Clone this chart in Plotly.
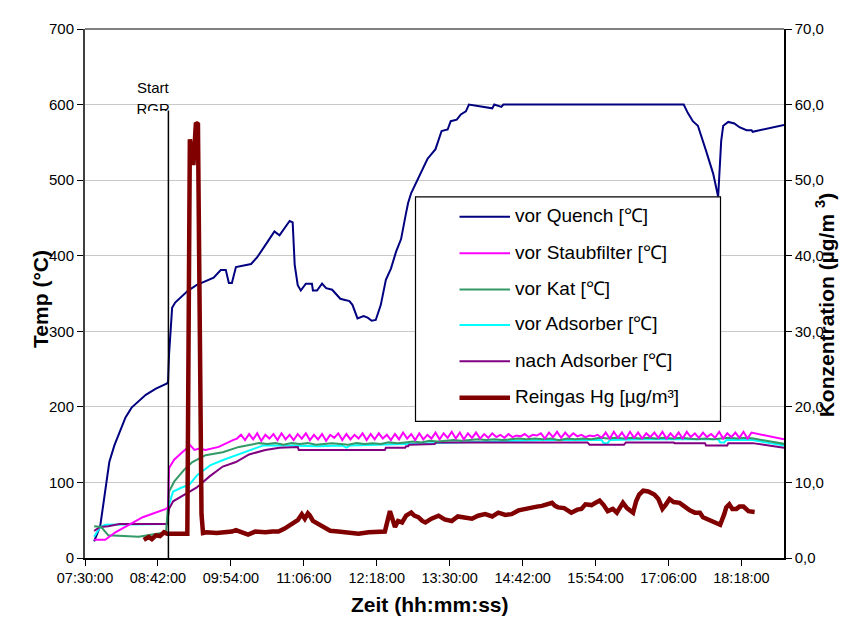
import pandas as pd
import plotly.graph_objects as go

DAY = "2024-01-01 "

def ts(s):
    s = s if len(s) > 5 else s + ":00"
    return DAY + s

# ---------------- data ----------------
quench_time = ["07:39", "07:45", "07:54", "07:59", "08:04", "08:10", "08:16", "08:23", "08:30", "08:40",
               "08:51", "08:52", "08:53", "08:56",
               "08:59", "09:11", "09:20", "09:37", "09:44", "09:49", "09:52", "09:55", "09:59", "10:14",
               "10:20", "10:30", "10:37", "10:42", "10:52", "10:55", "10:57", "11:00", "11:03", "11:08",
               "11:14", "11:15", "11:19", "11:24", "11:28", "11:34", "11:42", "11:51", "11:54", "11:59",
               "12:05", "12:09", "12:13", "12:17", "12:22", "12:27", "12:32", "12:37", "12:42", "12:47",
               "12:49", "12:52", "12:58", "13:08", "13:16", "13:22", "13:28", "13:31", "13:37", "13:41",
               "13:46", "13:49", "14:12", "14:14", "14:21", "14:23", "17:21", "17:25", "17:30", "17:35",
               "17:43", "17:50", "17:55", "17:58", "18:00", "18:05", "18:11", "18:16", "18:23", "18:28",
               "18:29", "19:00"]
quench_temp = [22, 42, 127, 149, 166, 186, 199, 208, 216, 224,
               231, 233, 270, 331,
               338, 353, 361, 371, 381, 381, 364, 364, 385, 389,
               398, 418, 432, 427, 446, 444, 388, 361, 354, 363,
               363, 354, 354, 363, 357, 355, 343, 340, 335, 317,
               320, 318, 314, 315, 335, 368, 383, 405, 422, 457,
               470, 483, 500, 528, 541, 565, 567, 578, 580, 587,
               591, 600, 595, 600, 597, 600, 600, 589, 578, 572,
               539, 509, 478, 552, 572, 577, 575, 570, 566, 566,
               564, 573]

# vor Staubfilter: start-up part, then 4-minute readings from 10:00, then end point
staub_time_a = ["07:39", "07:50", "08:00", "08:27", "08:50", "08:52", "08:53", "08:58", "09:06", "09:14",
                "09:18", "09:23", "09:29", "09:42", "09:56"]
staub_temp_a = [24, 24, 34, 54, 65, 67, 119, 130, 140, 149,
                143, 145, 143, 147, 156]
staub_grid_start = "10:00"
staub_grid_step_min = 4
staub_temp_grid = [158, 163, 156, 164, 157, 165, 155, 163, 158, 164, 156, 165, 157, 163, 156, 164,
                   158, 165, 156, 163, 157, 164, 155, 163, 159, 165, 156, 164, 157, 163, 158, 165,
                   156, 164, 157, 165, 158, 163, 156, 164, 157, 166, 158, 164, 156, 165, 157, 163,
                   158, 166, 157, 165, 159, 167, 158, 166, 157, 165, 159, 166, 158, 164, 159, 165,
                   160, 163, 159, 164, 160, 162, 161, 164, 160, 163, 162, 165, 158, 166, 160, 167,
                   159, 166, 160, 165, 161, 163, 160, 162, 161, 163, 159, 166, 158, 167, 159, 166,
                   158, 167, 159, 166, 158, 165, 160, 166, 159, 167, 158, 165, 159, 166, 158, 167,
                   160, 165, 159, 166, 160, 164, 159, 167, 158, 165, 160, 166, 159, 167, 158, 166]
staub_time_end = ["19:00"]
staub_temp_end = [157]

# vor Kat
kat_time_a = ["07:39", "07:46", "07:53", "08:23", "08:50", "08:53", "08:58", "09:08", "09:16", "09:29",
              "09:46", "10:02", "10:22"]
kat_temp_a = [42, 41, 30, 28, 34, 88, 101, 117, 127, 136,
              140, 147, 152]
kat_grid_start = "10:30"
kat_grid_step_min = 8
kat_temp_grid = [151, 152, 150, 152, 151, 152, 150, 151, 152, 151, 150, 152, 151, 152, 151, 153,
                 152, 153, 154, 153, 155, 154, 155, 156, 155, 156, 157, 156, 157, 156, 157, 158,
                 157, 158, 157, 158, 156, 158, 157, 158, 157, 159, 158, 159, 158, 159, 158, 159,
                 158, 159, 158, 159, 158, 157, 158, 157, 158, 159, 158, 159, 158]
kat_time_end = ["19:00"]
kat_temp_end = [151]

# vor Adsorber
ads_time = ["07:39", "07:45", "07:50", "08:51", "08:53", "08:57", "09:05", "09:13", "09:21", "09:34",
            "09:47", "10:00", "10:13", "10:26", "10:53", "11:20", "11:44", "11:48", "11:52", "12:20",
            "12:40", "13:00", "13:30", "14:00", "14:40", "15:00", "16:00", "16:02", "16:06", "16:08",
            "16:40", "17:40", "17:55", "17:57", "18:01", "18:03", "18:29", "19:00"]
ads_temp = [28, 41, 44, 45, 71, 88, 93, 97, 110, 123,
            130, 136, 143, 149, 149, 148, 149, 146, 149, 150,
            151, 152, 153, 154, 155, 156, 156, 152, 152, 156,
            157, 157, 157, 153, 153, 156, 156, 149]

# nach Adsorber
nach_time = ["07:39", "07:45", "07:53", "08:04", "08:51", "08:53", "08:57", "09:11", "09:20", "09:33",
             "09:46", "09:59", "10:12", "10:28", "10:42", "11:00", "11:01", "12:26", "12:27", "12:46",
             "12:47", "12:49", "12:50", "13:15", "13:17", "15:46", "15:48", "16:22", "16:24", "17:11",
             "17:12", "17:42", "17:43", "18:04", "18:05", "18:29", "19:00"]
nach_temp = [36, 41, 42, 45, 45, 65, 75, 86, 93, 108,
             121, 127, 137, 143, 146, 147, 143, 143, 146, 146,
             148, 148, 150, 151, 153, 153, 150, 150, 153, 153,
             152, 152, 149, 149, 152, 152, 146]

# Reingas Hg (secondary axis)
hg_time = ["08:28", "08:33", "08:36", "08:40", "08:44", "08:48", "08:51", "09:11", "09:13:30", "09:14:30",
           "09:17", "09:19:30", "09:21:30", "09:25", "09:26:30", "09:30", "09:40", "09:55", "09:59", "10:05",
           "10:11", "10:18", "10:28", "10:35", "10:41", "10:47", "10:52", "10:56", "11:00", "11:04",
           "11:07", "11:10", "11:12", "11:15", "11:20", "11:24", "11:32", "11:40", "11:50", "12:00",
           "12:10", "12:20", "12:26", "12:31", "12:34", "12:36", "12:39", "12:43", "12:47", "12:52",
           "12:55", "12:59", "13:03", "13:06", "13:12", "13:19", "13:25", "13:32", "13:38", "13:45",
           "13:52", "13:58", "14:05", "14:12", "14:18", "14:25", "14:31", "14:38", "14:44", "14:50",
           "14:56", "15:01", "15:06", "15:11", "15:14", "15:17", "15:23", "15:30", "15:36", "15:40",
           "15:44", "15:50", "15:54", "15:58", "16:02", "16:06", "16:11", "16:15", "16:21", "16:25",
           "16:31", "16:34", "16:37", "16:41", "16:46", "16:52", "16:56", "17:00", "17:03", "17:07",
           "17:11", "17:17", "17:22", "17:27", "17:32", "17:37", "17:40", "17:43", "17:47", "17:52",
           "17:57", "18:01", "18:03", "18:06", "18:09", "18:13", "18:16", "18:20", "18:25", "18:31"]
hg_conc = [2.4, 2.8, 2.5, 3.0, 2.9, 3.4, 3.2, 3.2, 55.4, 54.5,
           52.0, 57.6, 57.4, 5.8, 3.3, 3.4, 3.3, 3.5, 3.7, 3.4,
           3.1, 3.5, 3.4, 3.5, 3.5, 3.9, 4.3, 4.7, 5.0, 5.8,
           5.2, 5.9, 5.6, 4.9, 4.5, 4.1, 3.6, 3.5, 3.4, 3.2,
           3.4, 3.5, 3.5, 6.2, 4.6, 4.1, 4.9, 4.7, 5.6, 6.0,
           5.6, 5.4, 4.9, 4.7, 5.2, 5.6, 5.1, 4.9, 5.5, 5.4,
           5.2, 5.6, 5.8, 5.5, 6.0, 5.7, 5.8, 6.3, 6.5, 6.6,
           6.8, 6.9, 7.1, 7.3, 6.9, 6.7, 6.6, 6.0, 6.4, 6.5,
           7.1, 7.0, 7.3, 7.6, 7.0, 6.2, 6.5, 6.0, 7.3, 6.6,
           6.0, 7.5, 8.4, 8.9, 8.8, 8.4, 7.8, 6.5, 7.0, 7.8,
           7.4, 7.3, 6.8, 6.3, 6.0, 6.0, 5.4, 5.2, 5.0, 4.7,
           4.4, 5.8, 6.7, 7.1, 6.5, 6.5, 6.8, 6.8, 6.2, 6.1]

start_marker_time = "08:52:20"
start_marker_top = 592
x_range = ["07:30", "19:00"]
x_tick_step_min = 72
y_left_range = [0, 700]
y_right_range = [0, 70]

series_names = ["vor Quench [℃]", "vor Staubfilter [℃]", "vor Kat [℃]",
                "vor Adsorber [℃]", "nach Adsorber [℃]", "Reingas Hg [µg/m³]"]
series_colors = ["#000080", "#FF00FF", "#339966", "#00FFFF", "#800080", "#800000"]
series_widths = [2, 2, 2, 2, 2, 4.5]


def grid_times(start, step, n):
    return [str(t) for t in pd.date_range(ts(start), periods=n, freq=f"{step}min")]

staub_x = [ts(t) for t in staub_time_a] + grid_times(staub_grid_start, staub_grid_step_min, len(staub_temp_grid)) + [ts(t) for t in staub_time_end]
staub_y = staub_temp_a + staub_temp_grid + staub_temp_end
kat_x = [ts(t) for t in kat_time_a] + grid_times(kat_grid_start, kat_grid_step_min, len(kat_temp_grid)) + [ts(t) for t in kat_time_end]
kat_y = kat_temp_a + kat_temp_grid + kat_temp_end

FONT = "Liberation Sans, Arial, sans-serif"

fig = go.Figure()

temp_series = [
    (0, [ts(t) for t in quench_time], quench_temp),
    (3, [ts(t) for t in ads_time], ads_temp),
    (4, [ts(t) for t in nach_time], nach_temp),
    (2, kat_x, kat_y),
    (1, staub_x, staub_y),
]
for idx, xs, ys in temp_series:
    fig.add_trace(go.Scatter(x=xs, y=ys, mode="lines", name=series_names[idx],
                             line=dict(color=series_colors[idx], width=series_widths[idx]),
                             showlegend=False))

fig.add_trace(go.Scatter(x=[ts(t) for t in hg_time], y=hg_conc, mode="lines", name=series_names[5],
                         line=dict(color=series_colors[5], width=series_widths[5]),
                         yaxis="y2", showlegend=False))

# partially hidden second line of the marker label
fig.add_trace(go.Scatter(x=[ts("08:37:12")], y=[593], mode="text", text=["RGR"],
                         textposition="middle center",
                         textfont=dict(family=FONT, size=15, color="black"),
                         showlegend=False, hoverinfo="skip"))

# ---------------- layout ----------------
# the page body adds an 8 px offset, so the figure is 8 px smaller and margins shifted
OFF = 8
W, H = 855 - OFF, 633 - OFF
PX0, PX1, PY0, PY1 = 85, 784, 20, 558      # plot area in window pixels
L, R, T, B = PX0 - OFF, W - (PX1 - OFF), PY0 - OFF, H - (PY1 - OFF)
pw, ph = PX1 - PX0, PY1 - PY0

def px_x(p):
    return (p - PX0) / pw

def px_y(p):
    return (PY1 - p) / ph

shapes = []
# top border
shapes.append(dict(type="line", xref="paper", yref="paper", x0=0, x1=1, y0=1, y1=1,
                   line=dict(color="#808080", width=2)))
# white mask that clips the marker label
shapes.append(dict(type="rect", xref="x", yref="y", x0=ts("08:30"), x1=ts("08:58"), y0=576, y1=start_marker_top - 0.5,
                   fillcolor="white", line=dict(width=0), layer="above"))
# start marker line
shapes.append(dict(type="line", xref="x", yref="y", x0=ts(start_marker_time), x1=ts(start_marker_time),
                   y0=0, y1=start_marker_top, line=dict(color="black", width=1.5)))
# legend box
shapes.append(dict(type="rect", xref="paper", yref="paper",
                   x0=px_x(415.5), x1=px_x(720.5), y0=px_y(419), y1=px_y(190.7),
                   fillcolor="white", line=dict(color="black", width=1.2), layer="above"))

annotations = []
legend_rows = [211, 248, 285, 321, 358, 395]
for i, row in enumerate(legend_rows):
    shapes.append(dict(type="line", xref="paper", yref="paper",
                       x0=px_x(459.5), x1=px_x(510), y0=px_y(row), y1=px_y(row),
                       line=dict(color=series_colors[i], width=series_widths[i])))
    annotations.append(dict(xref="paper", yref="paper", x=px_x(513), y=px_y(row - 1),
                            text=series_names[i], showarrow=False, xanchor="left", yanchor="middle",
                            font=dict(family=FONT, size=19, color="black")))

annotations.append(dict(xref="x", yref="y", x=ts("08:37:12"), y=622, text="Start", showarrow=False,
                        font=dict(family=FONT, size=15, color="black")))
annotations.append(dict(xref="paper", yref="paper", x=px_x(430), y=px_y(619), text="<b>Zeit (hh:mm:ss)</b>",
                        showarrow=False, font=dict(family=FONT, size=21, color="black")))
annotations.append(dict(xref="paper", yref="paper", x=px_x(27), y=px_y(295), text="<b>Temp (°C)</b>",
                        showarrow=False, textangle=-90, font=dict(family=FONT, size=21, color="black")))
annotations.append(dict(xref="paper", yref="paper", x=px_x(840), y=px_y(301),
                        text="<b>Konzentration (µg/m <sup>3</sup>)</b>",
                        showarrow=False, textangle=-90, font=dict(family=FONT, size=21, color="black")))

fig.update_layout(
    width=W, height=H,
    margin=dict(l=L, r=R, t=T, b=B, pad=0),
    paper_bgcolor="white", plot_bgcolor="white",
    separators=",.",
    font=dict(family=FONT, size=15, color="black"),
    showlegend=False,
    xaxis=dict(type="date", range=[ts(x_range[0]), ts(x_range[1])],
               tick0=ts(x_range[0]), dtick=x_tick_step_min * 60 * 1000, tickformat="%H:%M:%S",
               showgrid=False, showline=True, linecolor="black", linewidth=1.5,
               ticks="outside", ticklen=6, tickcolor="black", zeroline=False,
               tickfont=dict(family=FONT, size=14.5, color="black")),
    yaxis=dict(range=y_left_range, dtick=100, showgrid=True, gridcolor="#c8c8c8", gridwidth=1,
               showline=True, linecolor="#404040", linewidth=2, ticks="outside", ticklen=6,
               tickcolor="black", zeroline=False,
               tickfont=dict(family=FONT, size=15, color="black")),
    yaxis2=dict(range=y_right_range, dtick=10, tickformat=".1f", overlaying="y", side="right",
                showgrid=False, showline=True, linecolor="black", linewidth=1.5, ticks="outside",
                ticklen=6, tickcolor="black", zeroline=False,
                tickfont=dict(family=FONT, size=15, color="black")),
    shapes=shapes,
    annotations=annotations,
)

fig.write_html("out.html")
